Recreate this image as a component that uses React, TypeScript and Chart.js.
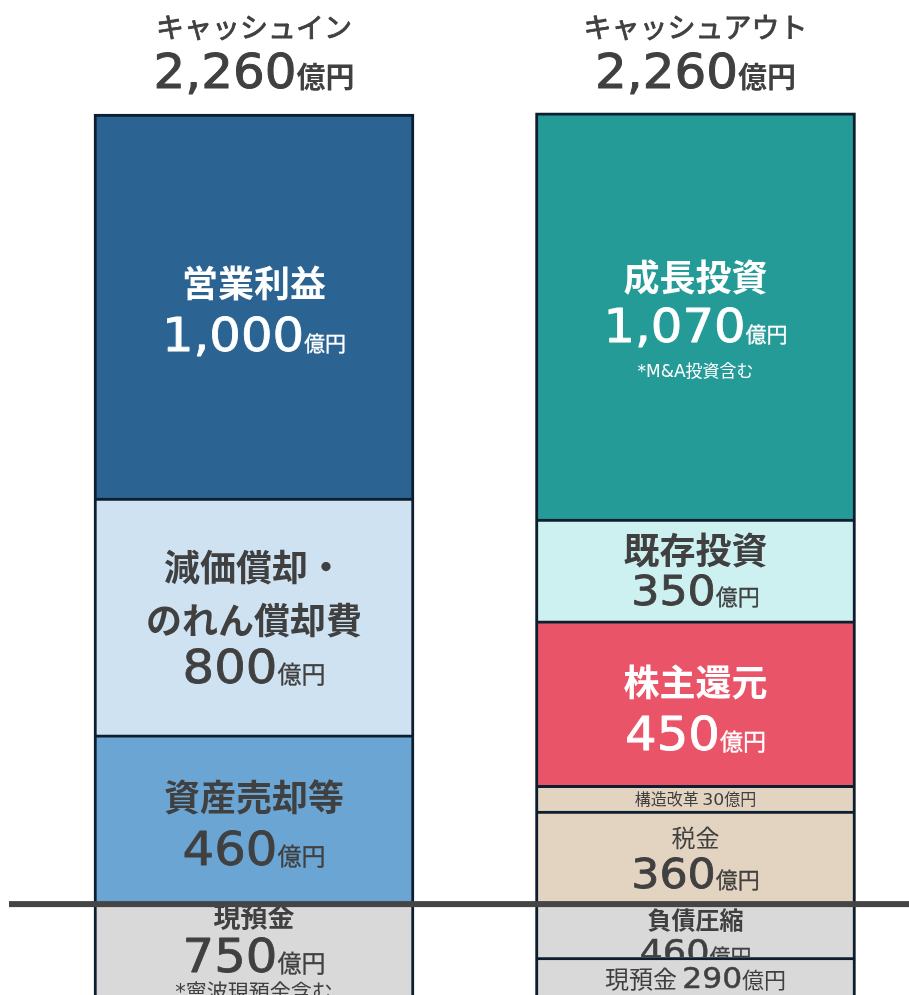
import { useEffect, useRef } from 'react';
import { Chart, registerables } from 'chart.js';

Chart.register(...registerables);

// ---- data ----
const categories = ['キャッシュイン', 'キャッシュアウト'];
const categoryTotals = [2260, 2260];

const inNames = ['営業利益', '減価償却・\nのれん償却費', '資産売却等', '現預金'];
const inAmounts = [1000, 800, 460, 750];
// extent each block is drawn with (the line is zero)
const inPlotted = [1099, 677, 484, -750];
const inNotes = ['', '', '', '*寧波現預金含む'];

const outNames = ['成長投資', '既存投資', '株主還元', '構造改革', '税金', '負債圧縮', '現預金'];
const outAmounts = [1070, 350, 450, 30, 360, 460, 290];
const outPlotted = [1162, 291, 470, 74, 266, -160, -590];
const outNotes = ['*M&A投資含む', '', '', '', '', '', ''];

const unitText = '億円';

// ---- styles ----
const inColors = ['#2b6393', '#cfe2f2', '#6aa5d4', '#d9d9d9'];
const outColors = ['#259b98', '#cdf1f0', '#ea5469', '#e3d4c1', '#e3d4c1', '#d9d9d9', '#d9d9d9'];
const BORDER = '#0d1e2f';
const DARK = '#404040';
const WHITE = '#ffffff';

const NUM_FONT = '"DejaVu Sans"';
const CJK_FONT = '"Noto Sans CJK JP"';

type Run = { t: string; size: number; weight?: number; kind?: 'num' | 'cjk' | 'mix'; sx?: number; stroke?: number };
type Line = { runs: Run[]; dy: number };
type Label = { color: string; lines: Line[] };

const fmt = (v: number) => v.toLocaleString('en-US');

function fontOf(r: Run) {
  const fam = r.kind === 'num' || r.kind === 'mix' ? `${NUM_FONT}, ${CJK_FONT}` : `${CJK_FONT}`;
  return `${r.weight ?? 400} ${r.size}px ${fam}, sans-serif`;
}

function drawLine(ctx: CanvasRenderingContext2D, runs: Run[], cx: number, baseline: number, color: string) {
  const widths: number[] = [];
  let total = 0;
  for (const r of runs) {
    ctx.font = fontOf(r);
    const w = ctx.measureText(r.t).width * (r.sx ?? 1);
    widths.push(w);
    total += w;
  }
  let x = cx - total / 2;
  ctx.fillStyle = color;
  ctx.strokeStyle = color;
  ctx.textAlign = 'left';
  ctx.textBaseline = 'alphabetic';
  runs.forEach((r, i) => {
    ctx.font = fontOf(r);
    ctx.save();
    ctx.translate(x, baseline);
    if (r.sx) ctx.scale(r.sx, 1);
    ctx.fillText(r.t, 0, 0);
    if (r.stroke) {
      ctx.lineWidth = r.stroke;
      ctx.lineJoin = 'round';
      ctx.strokeText(r.t, 0, 0);
    }
    ctx.restore();
    x += widths[i];
  });
}

const NUM_SX = 1.08;
const numRun = (v: number, size: number): Run => ({
  t: fmt(v),
  size,
  kind: 'num',
  sx: NUM_SX,
  stroke: size >= 40 ? 0.8 : size >= 28 ? 0.5 : 0,
});

const head = (t: string, size: number, weight: number, dy: number): Line => ({ runs: [{ t, size, weight, kind: 'cjk' }], dy });
const amt = (v: number, numSize: number, unitSize: number, dy: number, weight = 400): Line => ({
  runs: [numRun(v, numSize), { t: unitText, size: unitSize, weight, kind: 'cjk', stroke: 0.3 }],
  dy,
});
const note = (t: string, size: number, dy: number): Line => ({ runs: [{ t, size, kind: 'mix' }], dy });

function headLines(name: string, size: number, weight: number, firstDy: number, step: number): Line[] {
  return name.split('\n').map((s, i) => head(s, size, weight, firstDy + i * step));
}

const inLabels: Label[] = [
  { color: WHITE, lines: [...headLines(inNames[0], 36, 700, -9, 0), amt(inAmounts[0], 46, 21, 45)] },
  { color: DARK, lines: [...headLines(inNames[1], 36, 700, -35.5, 53), amt(inAmounts[1], 46, 24, 66.5)] },
  { color: DARK, lines: [...headLines(inNames[2], 36, 700, -8, 0), amt(inAmounts[2], 46, 24, 46)] },
  {
    color: DARK,
    lines: [...headLines(inNames[3], 27, 700, -22.5, 0), amt(inAmounts[3], 46, 24, 22.5), note(inNotes[3], 21, 49.5)],
  },
];

const outLabels: Label[] = [
  {
    color: WHITE,
    lines: [...headLines(outNames[0], 36, 700, -25, 0), amt(outAmounts[0], 46, 21, 26), note(outNotes[0], 17, 60.5)],
  },
  { color: DARK, lines: [...headLines(outNames[1], 36, 700, -6, 0), amt(outAmounts[1], 41, 22, 35)] },
  { color: WHITE, lines: [...headLines(outNames[2], 36, 700, -7, 0), amt(outAmounts[2], 46, 23, 47)] },
  {
    color: DARK,
    lines: [
      {
        runs: [
          { t: outNames[3] + ' ', size: 16, kind: 'cjk' },
          { t: fmt(outAmounts[3]), size: 16, kind: 'num', sx: NUM_SX },
          { t: unitText, size: 16, kind: 'cjk' },
        ],
        dy: 6.5,
      },
    ],
  },
  { color: DARK, lines: [...headLines(outNames[4], 24, 400, -10.5, 0), amt(outAmounts[4], 41, 22, 30.5)] },
  { color: DARK, lines: [...headLines(outNames[5], 24, 700, -3, 0), amt(outAmounts[5], 34, 21, 32)] },
  {
    color: DARK,
    lines: [
      {
        runs: [
          { t: outNames[6] + ' ', size: 24, kind: 'cjk' },
          numRun(outAmounts[6], 29),
          { t: unitText, size: 22, kind: 'cjk' },
        ],
        dy: 10,
      },
    ],
  },
];

const bars = [
  { x: 0, names: inNames, plotted: inPlotted, colors: inColors, labels: inLabels },
  { x: 1, names: outNames, plotted: outPlotted, colors: outColors, labels: outLabels },
];

const segmentLabelPlugin = {
  id: 'segmentLabels',
  afterDatasetsDraw(chart: any) {
    const { ctx, chartArea } = chart;
    chart.data.datasets.forEach((ds: any, di: number) => {
      const meta = chart.getDatasetMeta(di);
      const el = meta.data[0];
      if (!el) return;
      const { x, y, base, width } = el.getProps(['x', 'y', 'base', 'width'], true);
      const bw = 3;
      const top = Math.min(y, base);
      const bottom = Math.max(y, base);
      const vTop = Math.max(top, chartArea.top);
      const vBottom = Math.min(bottom, chartArea.bottom);
      const cy = (vTop + vBottom) / 2;
      const label: Label = bars[ds.bar].labels[ds.seg];
      ctx.save();
      ctx.beginPath();
      ctx.rect(x - width / 2 + bw, top + bw, width - 2 * bw, bottom - top - 2 * bw);
      ctx.clip();
      for (const line of label.lines) drawLine(ctx, line.runs, x, cy + line.dy, label.color);
      ctx.restore();
    });
  },
  afterDraw(chart: any) {
    const { ctx } = chart;
    const yScale = chart.scales.y;
    const xScale = chart.scales.x;
    // titles
    categories.forEach((c, i) => {
      const cx = xScale.getPixelForValue(bars[i].x);
      const topPx = yScale.getPixelForValue(categoryTotals[i]);
      drawLine(ctx, [{ t: c, size: 28, weight: 400, kind: 'cjk', stroke: 0.9 }], cx, topPx - 76, DARK);
      drawLine(
        ctx,
        [
          { t: fmt(categoryTotals[i]), size: 48, kind: 'num', sx: 1.04, stroke: 1.0 },
          { t: unitText, size: 29, weight: 700, kind: 'cjk' },
        ],
        cx,
        topPx - 26,
        DARK,
      );
    });
    // zero line
    const z = yScale.getPixelForValue(0);
    ctx.save();
    ctx.fillStyle = '#454545';
    ctx.fillRect(9, z - 3, chart.width - 9, 6);
    ctx.restore();
  },
};

export default function App() {
  const ref = useRef<HTMLCanvasElement | null>(null);
  useEffect(() => {
    document.body.style.margin = '0';
    document.documentElement.style.overflow = 'hidden';
    const canvas = ref.current;
    if (!canvas) return;
    const datasets: any[] = [];
    bars.forEach((b, bi) => {
      const pos = b.plotted.map((v, i) => i).filter((i) => b.plotted[i] > 0).reverse();
      const neg = b.plotted.map((v, i) => i).filter((i) => b.plotted[i] < 0);
      [...pos, ...neg].forEach((i) => {
        datasets.push({
          label: b.names[i].replace('\n', ''),
          data: [{ x: b.x, y: b.plotted[i] }],
          backgroundColor: b.colors[i],
          borderColor: BORDER,
          borderWidth: 3,
          borderSkipped: 'start',
          barThickness: 320,
          bar: bi,
          seg: i,
        });
      });
    });
    const chart = new Chart(canvas, {
      type: 'bar',
      data: { datasets },
      options: {
        animation: false,
        responsive: false,
        events: [],
        layout: { padding: 0 },
        plugins: { legend: { display: false }, tooltip: { enabled: false }, title: { display: false } },
        scales: {
          x: { type: 'linear', min: -0.5753, max: 1.4836, display: false, stacked: true, offset: false },
          y: { type: 'linear', min: -260, max: 2586, display: false, stacked: true },
        },
      },
      plugins: [segmentLabelPlugin],
    });
    return () => chart.destroy();
  }, []);
  return (
    <canvas ref={ref} width={909} height={995} style={{ display: 'block', width: 909, height: 995 }} />
  );
}
